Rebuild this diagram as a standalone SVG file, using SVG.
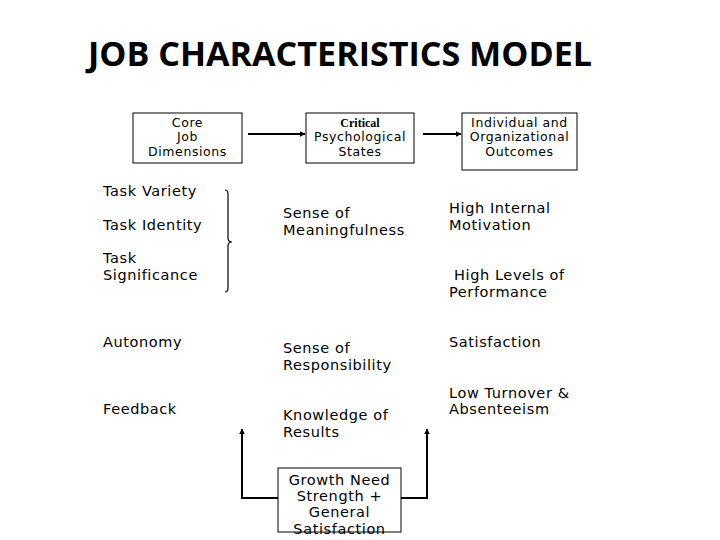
<svg xmlns="http://www.w3.org/2000/svg" width="720" height="540" viewBox="0 0 720 540">
<defs>
<marker id="ah" viewBox="0 0 10 10" refX="9" refY="5" markerWidth="6" markerHeight="6" orient="auto" markerUnits="userSpaceOnUse">
<path d="M0,0 L10,5 L0,10 z" fill="#000"/>
</marker>
<style>
.t{font-family:"DejaVu Sans",Verdana,sans-serif;font-size:14.5px;letter-spacing:0.6px;fill:#000}
.h{font-family:"DejaVu Sans",Verdana,sans-serif;font-size:12.5px;letter-spacing:0.6px;fill:#000;text-anchor:middle}
.box{fill:#fff;stroke:#000;stroke-width:1}
.ln{fill:none;stroke:#000;stroke-width:2}
</style>
</defs>
<rect width="720" height="540" fill="#fff"/>
<text x="88" y="66" font-family="'Open Sans',sans-serif" font-weight="700" font-size="34" textLength="504" lengthAdjust="spacingAndGlyphs">JOB CHARACTERISTICS MODEL</text>
<g id="connectors">
<line class="ln" x1="248" y1="134" x2="305" y2="134" marker-end="url(#ah)"/>
<line class="ln" x1="423" y1="134" x2="461" y2="134" marker-end="url(#ah)"/>
<path d="M225,190 Q228,190 228,194 L228,238 Q228,242 232,242 Q228,242 228,246 L228,288 Q228,292 225,292" fill="none" stroke="#000" stroke-width="1.2"/>
<polyline class="ln" points="278,498 242,498 242,429" marker-end="url(#ah)"/>
<polyline class="ln" points="401,498 427,498 427,429" marker-end="url(#ah)"/>
</g>
<g id="core">
<rect class="box" x="133" y="113" width="109" height="50"/>
<text class="h" x="187.5" y="127">Core</text>
<text class="h" x="187.5" y="141">Job</text>
<text class="h" x="187.5" y="156">Dimensions</text>
</g>
<g id="critical">
<rect class="box" x="306" y="113" width="108" height="50"/>
<text x="360" y="127" text-anchor="middle" font-family="'Liberation Serif',serif" font-weight="bold" font-size="12">Critical</text>
<text class="h" x="360" y="141">Psychological</text>
<text class="h" x="360" y="156">States</text>
</g>
<g id="outcomes">
<rect class="box" x="462" y="113" width="115" height="57"/>
<text class="h" x="519.5" y="127">Individual and</text>
<text class="h" x="519.5" y="141">Organizational</text>
<text class="h" x="519.5" y="156">Outcomes</text>
</g>
<g id="dimensions">
<text class="t" x="103" y="196">Task Variety</text>
<text class="t" x="103" y="230">Task Identity</text>
<text class="t" x="103" y="263">Task</text>
<text class="t" x="103" y="280">Significance</text>
<text class="t" x="103" y="347">Autonomy</text>
<text class="t" x="103" y="414">Feedback</text>
</g>
<g id="states">
<text class="t" x="283" y="218">Sense of</text>
<text class="t" x="283" y="235">Meaningfulness</text>
<text class="t" x="283" y="353">Sense of</text>
<text class="t" x="283" y="370">Responsibility</text>
<text class="t" x="283" y="420">Knowledge of</text>
<text class="t" x="283" y="437">Results</text>
</g>
<g id="results">
<text class="t" x="449" y="213">High Internal</text>
<text class="t" x="449" y="230">Motivation</text>
<text class="t" x="454" y="280">High Levels of</text>
<text class="t" x="449" y="297">Performance</text>
<text class="t" x="449" y="347">Satisfaction</text>
<text class="t" x="449" y="398">Low Turnover &amp;</text>
<text class="t" x="449" y="414">Absenteeism</text>
</g>
<g id="growth">
<rect class="box" x="278" y="468" width="123" height="64" fill="none"/>
<text class="t" x="339.5" y="485" text-anchor="middle">Growth Need</text>
<text class="t" x="339.5" y="501" text-anchor="middle">Strength +</text>
<text class="t" x="339.5" y="517" text-anchor="middle">General</text>
<text class="t" x="339.5" y="534" text-anchor="middle">Satisfaction</text>
</g>
</svg>
